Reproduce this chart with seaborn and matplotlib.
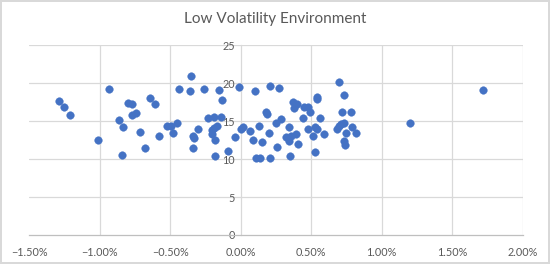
import numpy as np
import pandas as pd
import seaborn as sns
import matplotlib.pyplot as plt
from matplotlib.ticker import PercentFormatter

# daily return (%) vs volatility reading
returns = [-1.29, -1.25, -1.21, -1.01, -0.93, -0.86, -0.84, -0.83, -0.80, -0.77,
           -0.77, -0.74, -0.71, -0.68, -0.64, -0.61, -0.58, -0.52, -0.49, -0.48,
           -0.45, -0.44, -0.36, -0.35, -0.34, -0.33, -0.34, -0.30, -0.26, -0.23,
           -0.19, -0.15, -0.13, -0.14, -0.19, -0.20, -0.20, -0.18, -0.18, -0.17,
           -0.09, -0.04, -0.01, 0.00, 0.02, 0.07, 0.09, 0.10, 0.13, 0.11,
           0.14, 0.15, 0.18, 0.19, 0.20, 0.21, 0.21, 0.26, 0.25, 0.27,
           0.29, 0.34, 0.32, 0.34, 0.36, 0.35, 0.39, 0.37, 0.38, 0.40,
           0.41, 0.44, 0.45, 0.48, 0.49, 0.48, 0.51, 0.54, 0.54, 0.53,
           0.54, 0.53, 0.56, 0.59, 0.70, 0.68, 0.70, 0.71, 0.73, 0.72,
           0.73, 0.73, 0.74, 0.75, 0.78, 0.79, 0.82, 1.20, 1.72]
vol = [17.7, 16.8, 15.8, 12.5, 19.3, 15.2, 10.5, 14.2, 17.4, 17.3,
       15.8, 16.1, 13.6, 11.5, 18.0, 17.3, 13.0, 14.4, 14.3, 13.5,
       14.8, 19.3, 19.0, 21.0, 13.1, 12.8, 11.5, 13.9, 19.2, 15.4,
       15.5, 19.1, 17.8, 15.6, 14.1, 13.8, 13.3, 12.5, 10.4, 14.3,
       11.1, 12.9, 19.5, 13.9, 14.2, 13.7, 12.5, 19.0, 14.3, 10.2,
       10.2, 12.3, 16.2, 15.9, 13.4, 19.6, 10.1, 11.6, 14.8, 19.4,
       15.3, 14.2, 12.9, 12.4, 13.0, 10.4, 13.3, 17.5, 16.7, 17.3,
       12.0, 15.4, 16.8, 16.9, 16.2, 14.0, 13.1, 18.2, 17.9, 14.2,
       13.9, 10.9, 15.4, 13.3, 20.2, 13.9, 14.4, 14.6, 14.7, 16.2,
       18.4, 12.4, 11.9, 13.5, 16.2, 14.2, 13.5, 14.8, 19.1]

df = pd.DataFrame({'ret': np.array(returns) / 100, 'vol': vol})

sns.set_style('white')
plt.rcParams['font.family'] = ['Lato', 'DejaVu Sans']

fig = plt.figure(figsize=(5.5, 2.64), dpi=100)
fig.patch.set_edgecolor('#d9d9d9')
fig.patch.set_linewidth(1.5)
ax = fig.add_axes([0.0527, 0.110, 0.8977, 0.7185])

grid = '#d9d9d9'
for v in [-0.01, -0.005, 0.005, 0.01, 0.015, 0.02]:
    ax.axvline(v, color=grid, lw=0.9, zorder=0)
for v in [5, 10, 15, 20, 25]:
    ax.axhline(v, color=grid, lw=0.9, zorder=0)

sns.scatterplot(data=df, x='ret', y='vol', ax=ax, color='#4472c4',
                s=30, edgecolor='#4472c4', linewidth=0.3, zorder=3)

ax.set_xlim(-0.015, 0.02)
ax.set_ylim(0, 25)
ax.set_xticks(np.arange(-0.015, 0.0201, 0.005))
ax.set_yticks([0, 5, 10, 15, 20, 25])
ax.xaxis.set_major_formatter(PercentFormatter(1.0, decimals=2))

for s in ['top', 'right']:
    ax.spines[s].set_visible(False)
ax.spines['left'].set_position(('data', 0))
ax.spines['left'].set_color(grid)
ax.spines['left'].set_linewidth(0.9)
ax.spines['bottom'].set_color('#bfbfbf')
ax.spines['bottom'].set_linewidth(0.9)
ax.tick_params(length=0, labelsize=7.8, labelcolor='#595959')
ax.tick_params(axis='x', pad=9)
ax.tick_params(axis='y', pad=4)
ax.set_xlabel('')
ax.set_ylabel('')

fig.suptitle('Low Volatility Environment', y=0.955, fontsize=11, color='#595959')

fig.savefig('out.png', dpi=100)
